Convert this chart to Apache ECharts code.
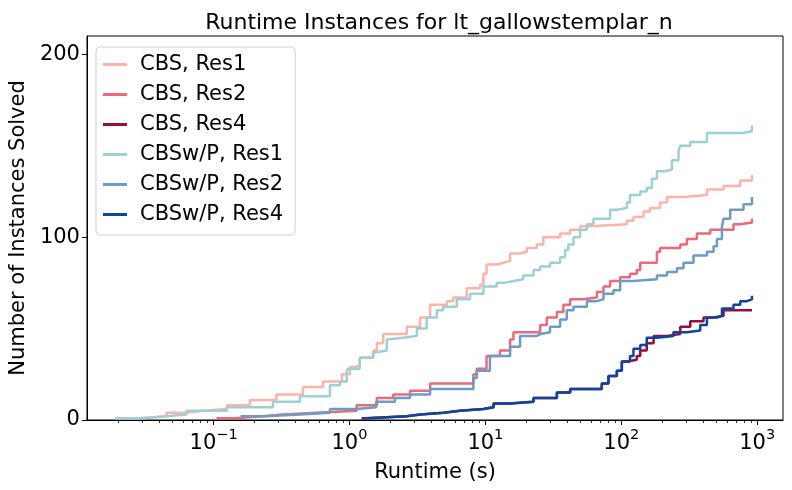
<!DOCTYPE html>
<html>
<head>
<meta charset="utf-8">
<title>Runtime Instances</title>
<script src="https://cdn.jsdelivr.net/npm/echarts@6/dist/echarts.min.js"></script>
<style>
  html, body { margin: 0; padding: 0; background: #fff; }
  #main { width: 792px; height: 490px; }
</style>
</head>
<body>
<div id="main"></div>
<script>
// runtimes (s) at which each count is reached
var cbsRes1X = [0.019, 0.0295, 0.045, 0.063, 0.083, 0.125, 0.185, 0.29, 0.455, 0.64, 0.88, 1.01, 1.10, 1.19, 1.50, 1.59, 1.77, 2.64, 3.31, 3.92, 5.2, 5.8, 7.3, 9.14, 9.67, 10.2, 12.1, 13.6, 15.2, 18.0, 20.2, 23.9, 26.7, 35.5, 42.1, 49.8, 59.0, 110, 123, 146, 163, 193, 217, 287, 427, 566, 751, 916];
var cbsRes1Y = [1, 2, 4, 5, 6, 8, 11, 14, 18, 21, 25, 29, 30, 34, 38, 42, 47, 51, 56, 63, 65, 67, 72, 74, 80, 85, 86, 87, 91, 92, 94, 96, 100, 102, 104, 106, 107, 109, 111, 114, 116, 119, 122, 123, 126, 128, 131, 134];

var cbsRes2X = [0.105, 0.141, 0.232, 0.324, 0.574, 1.13, 1.59, 2.10, 2.79, 3.92, 8.16, 8.64, 10.2, 12.8, 15.2, 16.1, 25.3, 28.3, 33.6, 37.5, 42.1, 52.7, 66.1, 74.0, 82.8, 98.2, 116, 130, 138, 183, 193, 272, 304, 360, 452, 670, 751, 916];
var cbsRes2Y = [1, 2, 3, 4, 5, 8, 12, 14, 16, 20, 25, 28, 35, 38, 44, 48, 52, 56, 59, 63, 66, 67, 70, 73, 76, 78, 80, 82, 86, 92, 94, 96, 99, 102, 104, 107, 108, 110];

var cbsRes4X = [1.23, 1.34, 2.64, 3.31, 4.91, 6.51, 9.67, 11.5, 15.2, 22.6, 33.6, 42.1, 67.9, 71.9, 80.5, 92.8, 101, 110, 130, 138, 154, 173, 217, 272, 322, 403, 478, 566, 916];
var cbsRes4Y = [1, 2, 3, 4, 5, 6, 7, 9, 10, 12, 15, 17, 17, 20, 24, 27, 32, 33, 35, 38, 42, 46, 47, 51, 54, 56, 57, 60, 60];

var cbswpRes1X = [0.019, 0.0295, 0.045, 0.063, 0.125, 0.273, 0.432, 0.718, 0.851, 0.954, 0.97, 1.19, 1.49, 1.59, 1.88, 1.92, 2.48, 3.13, 3.70, 4.39, 4.88, 6.16, 7.71, 9.67, 12.1, 13.6, 16.1, 19.0, 22.6, 25.3, 29.9, 35.5, 38.6, 40.8, 44.5, 49.8, 55.8, 62.4, 82.8, 92.8, 110, 116, 138, 154, 168, 183, 211, 236, 264, 272, 322, 427, 794, 916];
var cbswpRes1Y = [1, 2, 3, 5, 7, 10, 13, 19, 21, 26, 28, 34, 37, 38, 44, 45, 46, 50, 56, 60, 62, 66, 69, 73, 75, 76, 77, 79, 82, 84, 86, 89, 93, 96, 100, 104, 107, 110, 115, 116, 119, 123, 125, 127, 132, 136, 137, 142, 147, 150, 152, 157, 158, 161];

var cbswpRes2X = [0.158, 0.235, 0.432, 0.718, 1.12, 1.57, 2.16, 2.79, 3.92, 8.16, 8.64, 10.8, 15.2, 18.0, 23.9, 25.3, 29.9, 35.5, 39.7, 44.5, 55.8, 66.1, 74.0, 87.6, 98.2, 123, 183, 217, 257, 287, 340, 427, 478, 506, 551, 566, 634, 794, 916];
var cbswpRes2Y = [2, 3, 4, 6, 7, 10, 12, 14, 17, 23, 27, 35, 40, 46, 47, 48, 51, 55, 60, 62, 65, 66, 69, 71, 76, 77, 79, 81, 83, 86, 90, 92, 95, 99, 106, 110, 115, 118, 122];

var cbswpRes4X = [1.23, 1.34, 2.64, 3.31, 4.91, 6.51, 9.67, 11.5, 15.2, 22.6, 33.6, 42.1, 67.9, 71.9, 80.5, 92.8, 101, 116, 123, 138, 154, 183, 242, 304, 381, 427, 506, 551, 670, 751, 841, 916];
var cbswpRes4Y = [1, 2, 3, 4, 5, 6, 7, 9, 10, 12, 15, 17, 17, 20, 24, 27, 32, 35, 39, 41, 45, 46, 48, 49, 52, 56, 57, 61, 63, 65, 66, 68];

var seriesNames = ['CBS, Res1', 'CBS, Res2', 'CBS, Res4', 'CBSw/P, Res1', 'CBSw/P, Res2', 'CBSw/P, Res4'];
var seriesX = [cbsRes1X, cbsRes2X, cbsRes4X, cbswpRes1X, cbswpRes2X, cbswpRes4X];
var seriesY = [cbsRes1Y, cbsRes2Y, cbsRes4Y, cbswpRes1Y, cbswpRes2Y, cbswpRes4Y];
var colors = ['#fdb3a8', '#eb6a7a', '#990b42', '#9dd0d5', '#6b9bc7', '#0c449e'];

var xMin = 0.0117, xMax = 1550;
var xMajorTicks = [0.1, 1, 10, 100, 1000];
var xMinorTicks = [];
[0.01, 0.1, 1, 10, 100].forEach(function (d) {
    for (var k = 2; k <= 9; k++) {
        var v = +(k * d).toPrecision(3);
        if (v > xMin && v < xMax) xMinorTicks.push(v);
    }
});
var yTicks = [0, 100, 200];

var font = 'DejaVu Sans';
var myChart = echarts.init(document.getElementById('main'));

var series = seriesNames.map(function (name, i) {
    return {
        name: name,
        type: 'line',
        step: 'end',
        showSymbol: false,
        symbol: 'none',
        color: colors[i],
        lineStyle: { width: 2.5, color: colors[i] },
        data: seriesX[i].map(function (x, j) { return [x, seriesY[i][j]]; }),
        xAxisIndex: 0
    };
});

var option = {
    animation: false,
    title: {
        text: 'Runtime Instances for lt_gallowstemplar_n',
        left: 434,
        top: 7,
        textAlign: 'center',
        textStyle: { fontFamily: font, fontSize: 22, fontWeight: 'normal', color: '#000' }
    },
    grid: {
        left: 86, right: 9, top: 36, bottom: 70,
        show: true, borderColor: '#000', borderWidth: 1, backgroundColor: 'transparent'
    },
    legend: {
        orient: 'vertical',
        left: 96,
        top: 47,
        padding: [7, 12, 10, 7],
        itemGap: 9,
        itemWidth: 24,
        itemHeight: 3,
        icon: 'rect',
        backgroundColor: 'rgba(255,255,255,0.8)',
        borderColor: '#d0d0d0',
        borderWidth: 1,
        borderRadius: 4,
        data: seriesNames,
        textStyle: { fontFamily: font, fontSize: 21, color: '#000', lineHeight: 21, padding: [0, 0, 0, 8] }
    },
    xAxis: [{
        type: 'log',
        logBase: 10,
        min: xMin,
        max: xMax,
        name: 'Runtime (s)',
        nameLocation: 'middle',
        nameGap: 42,
        nameTextStyle: { fontFamily: font, fontSize: 21, color: '#000' },
        axisLine: { onZero: false, lineStyle: { color: '#000', width: 1 } },
        axisTick: { customValues: xMajorTicks, length: 5, lineStyle: { color: '#000', width: 1 } },
        splitLine: { show: false },
        axisLabel: {
            customValues: xMajorTicks,
            margin: 8,
            color: '#000',
            formatter: function (v) {
                var e = Math.round(Math.log10(v));
                var s = e < 0 ? '\u2212' + (-e) : '' + e;
                return '{b|10}{s|' + s + '}';
            },
            rich: {
                b: { fontFamily: font, fontSize: 21, color: '#000', lineHeight: 26, verticalAlign: 'bottom' },
                s: { fontFamily: font, fontSize: 14.5, color: '#000', lineHeight: 26, verticalAlign: 'top' }
            }
        }
    }, {
        // minor ticks of the log axis, on a plain axis in log10 units
        type: 'value',
        min: Math.log10(xMin),
        max: Math.log10(xMax),
        position: 'bottom',
        axisLine: { show: false, onZero: false },
        axisTick: {
            show: true,
            customValues: xMinorTicks.map(function (v) { return Math.log10(v); }),
            length: 3,
            lineStyle: { color: '#000', width: 0.8 }
        },
        axisLabel: { show: false },
        splitLine: { show: false }
    }],
    yAxis: {
        type: 'value',
        min: 0,
        max: 210,
        name: 'Number of Instances Solved',
        nameLocation: 'middle',
        nameGap: 53,
        nameTextStyle: { fontFamily: font, fontSize: 21, color: '#000' },
        axisLine: { show: true, onZero: false, lineStyle: { color: '#000', width: 1 } },
        axisTick: { show: true, customValues: yTicks, length: 5, lineStyle: { color: '#000', width: 1 } },
        axisLabel: { customValues: yTicks, margin: 7, fontFamily: font, fontSize: 21, color: '#000' },
        splitLine: { show: false }
    },
    series: series
};

myChart.setOption(option);
</script>
</body>
</html>
